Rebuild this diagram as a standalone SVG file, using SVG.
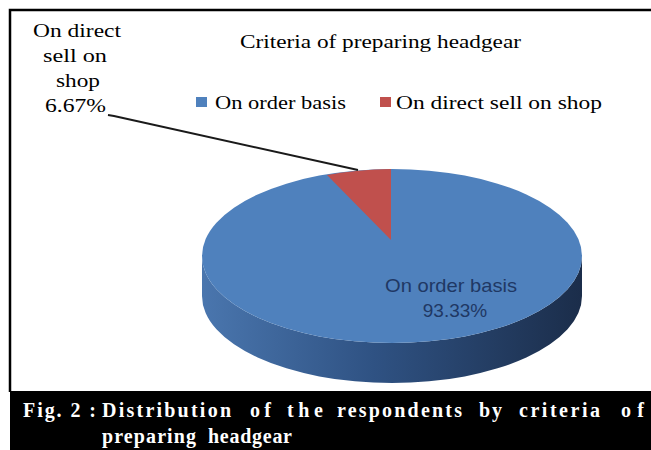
<svg xmlns="http://www.w3.org/2000/svg" width="651" height="450" viewBox="0 0 651 450">
<defs>
<linearGradient id="side" x1="202" y1="0" x2="582" y2="0" gradientUnits="userSpaceOnUse">
<stop offset="0" stop-color="#4a76ae"/>
<stop offset="0.45" stop-color="#2f5283"/>
<stop offset="1" stop-color="#1b2d4a"/>
</linearGradient>
<style>
.serif{font-family:"Liberation Serif","Times New Roman",serif;fill:#000;font-size:18.5px}
.cap{font-family:"Liberation Serif","Times New Roman",serif;font-weight:bold;fill:#fff;font-size:20px}
.lbl{font-family:"Liberation Sans",Arial,sans-serif;fill:#1f3864;font-size:19px}
</style>
</defs>
<rect width="651" height="450" fill="#fff"/>
<g id="frame">
<path d="M10,392 V10 H651" fill="none" stroke="#000" stroke-width="2.5"/>
<rect x="10" y="391" width="641" height="59" fill="#000"/>
</g>
<g id="title">
<text class="serif" x="240" y="48" textLength="281" lengthAdjust="spacingAndGlyphs">Criteria of preparing headgear</text>
</g>
<g id="legend">
<rect x="196" y="97" width="11" height="10" fill="#4f81bd"/>
<text class="serif" x="215" y="109" textLength="131" lengthAdjust="spacingAndGlyphs">On order basis</text>
<rect x="380" y="97" width="11" height="10" fill="#c0504d"/>
<text class="serif" x="396" y="109" textLength="206" lengthAdjust="spacingAndGlyphs">On direct sell on shop</text>
</g>
<g id="pie">
<path d="M202,256 V296 A190,87 0 0 0 582,296 V256 A190,87 0 0 1 202,256 Z" fill="url(#side)"/>
<ellipse cx="392" cy="256" rx="190" ry="87" fill="#4f81bd"/>
<path d="M391,240 L391,169 A190,87 0 0 0 327,175 Z" fill="#c0504d"/>
</g>
<g id="connectors">
<polyline points="108,115 114,116 358,170" fill="none" stroke="#1a1a1a" stroke-width="2"/>
</g>
<g id="label-shop">
<text class="serif" x="33" y="37" textLength="88" lengthAdjust="spacingAndGlyphs">On direct</text>
<text class="serif" x="43" y="62" textLength="64" lengthAdjust="spacingAndGlyphs">sell on</text>
<text class="serif" x="56" y="87" textLength="44" lengthAdjust="spacingAndGlyphs">shop</text>
<text class="serif" x="45" y="112" textLength="61" lengthAdjust="spacingAndGlyphs">6.67%</text>
</g>
<g id="label-order">
<text class="lbl" x="385" y="292" textLength="132" lengthAdjust="spacingAndGlyphs">On order basis</text>
<text class="lbl" x="455" y="317" text-anchor="middle">93.33%</text>
</g>
<g id="caption">
<text class="cap" x="23" y="417" textLength="73" lengthAdjust="spacing">Fig. 2 :</text>
<text class="cap" x="102" y="417" textLength="129" lengthAdjust="spacing">Distribution</text>
<text class="cap" x="250" y="417" textLength="21" lengthAdjust="spacing">of</text>
<text class="cap" x="287" y="417" textLength="36" lengthAdjust="spacing">the</text>
<text class="cap" x="337" y="417" textLength="125" lengthAdjust="spacing">respondents</text>
<text class="cap" x="479" y="417" textLength="23" lengthAdjust="spacing">by</text>
<text class="cap" x="519" y="417" textLength="81" lengthAdjust="spacing">criteria</text>
<text class="cap" x="621" y="417" textLength="23" lengthAdjust="spacing">of</text>
<text class="cap" x="102" y="443" textLength="94" lengthAdjust="spacing">preparing</text>
<text class="cap" x="208" y="443" textLength="84" lengthAdjust="spacing">headgear</text>
</g>
</svg>
